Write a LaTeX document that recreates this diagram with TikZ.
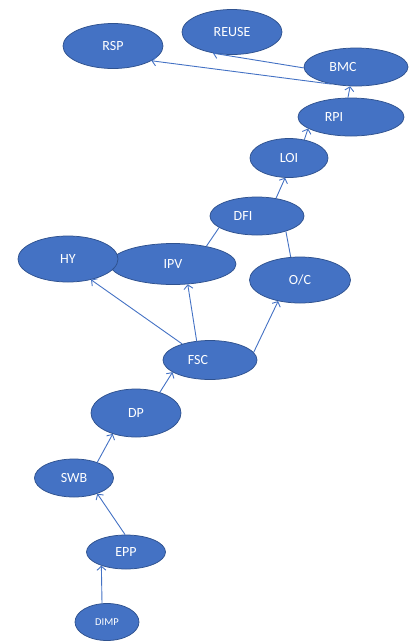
\documentclass[tikz,border=0pt]{standalone}
\usepackage{fontspec}
\setmainfont{Carlito}
\usetikzlibrary{shapes.geometric,arrows.meta}

\definecolor{ovalblue}{HTML}{4472C4}
\definecolor{ovaledge}{HTML}{2F528F}

\tikzset{
	oval/.style={ellipse, fill=ovalblue, draw=ovaledge, line width=0.75pt, inner sep=0pt,
		text=white, font=\fontsize{14}{16}\selectfont},
	tag/.style={text=white, font=\fontsize{14}{16}\selectfont},
	link/.style={draw=ovalblue, line width=0.9pt},
	flow/.style={link, -{Straight Barb[length=4pt,width=9pt]}}
}

\begin{document}
\begin{tikzpicture}[x=1pt,y=-1pt]
	\useasboundingbox (0,0) rectangle (412,641);

	\node[oval, minimum width=100pt, minimum height=45pt] (rsp) at (113,46) {RSP};
	\node[oval, minimum width=100pt, minimum height=45pt] (reuse) at (232,32) {REUSE};
	\node[oval, minimum width=104pt, minimum height=38pt, label={[tag,xshift=-13pt]center:BMC}] (bmc) at (356,67) {};
	\node[oval, minimum width=106pt, minimum height=38pt, label={[tag,xshift=-17pt]center:RPI}] (rpi) at (351,117) {};
	\node[oval, minimum width=78pt, minimum height=39pt] (loi) at (289,158) {LOI};
	\node[oval, minimum width=94pt, minimum height=38pt, label={[tag,xshift=-14pt]center:DFI}] (dfi) at (257,216) {};
	\node[oval, minimum width=126pt, minimum height=41pt] (ipv) at (173,264) {IPV};
	\node[oval, minimum width=100pt, minimum height=46pt] (hy) at (68,259) {HY};
	\node[oval, minimum width=101pt, minimum height=46pt] (oc) at (300,280) {O/C};
	\node[oval, minimum width=94pt, minimum height=39pt, label={[tag,xshift=-12pt]center:FSC}] (fsc) at (210,360) {};
	\node[oval, minimum width=90pt, minimum height=48pt] (dp) at (136,413) {DP};
	\node[oval, minimum width=79pt, minimum height=38pt] (swb) at (74,478) {SWB};
	\node[oval, minimum width=79pt, minimum height=34pt] (epp) at (126,552) {EPP};
	\node[oval, minimum width=64pt, minimum height=37pt, font=\fontsize{10.5}{12}\selectfont] (dimp) at (107,622) {DIMP};

	% upward chain
	\draw[flow] (dimp.105) -- (epp.209);
	\draw[flow] (epp.93) -- (swb.-34);
	\draw[flow] (swb.34) -- (dp.222);
	\draw[flow] (dp.41) -- (fsc.198);
	\draw[flow] (fsc.150) -- (hy.-42);
	\draw[flow] (fsc.125) -- (ipv.-54);
	\draw[flow] (fsc.10) -- (oc.224);
	\draw[link] (ipv.28) -- (dfi.197);
	\draw[link] (oc.112) -- (dfi.-28);
	\draw[flow] (dfi.43) -- (loi.259);
	\draw[flow] (loi.50) -- (rpi.195);
	\draw[flow] (rpi.99) -- (bmc.253);
	\draw[flow] (bmc.181) -- (reuse.228);
	\draw[flow] (bmc.215) -- (rsp.-21);
\end{tikzpicture}
\end{document}
